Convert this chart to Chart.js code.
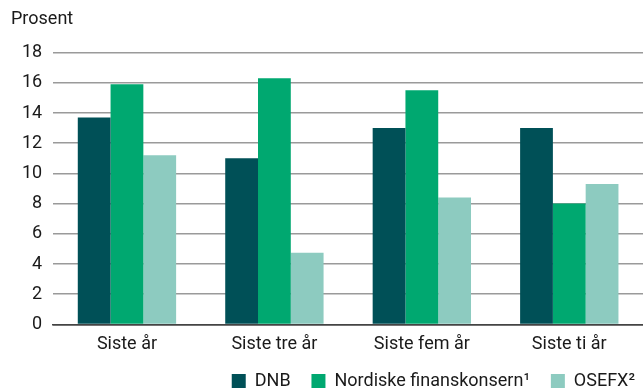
<!DOCTYPE html>
<html>
<head>
<meta charset="utf-8">
<script src="https://cdn.jsdelivr.net/npm/chart.js@4"></script>
<style>
    html, body { margin: 0; padding: 0; background: #fff; }
    #wrap { width: 643px; height: 390px; }
</style>
</head>
<body>
<div id="wrap"><canvas id="returnChart"></canvas></div>
<script>
// ================= DATA =================

const categories = ["Siste år", "Siste tre år", "Siste fem år", "Siste ti år"];
const seriesNames = ["DNB", "Nordiske finanskonsern¹", "OSEFX²"];
const dnb = [13.7, 11.0, 13.0, 13.0];
const nordiske = [15.9, 16.3, 15.5, 8.0];
const osefx = [11.2, 4.75, 8.4, 9.3];
const yTicks = [0, 2, 4, 6, 8, 10, 12, 14, 16, 18];

// ================= CHART =================

const ctx = document.getElementById("returnChart");
const textFont = { family: 'Roboto', size: 18 };

// en space + thin space after the first two legend names widens the gap between items
const gap = '\u2002\u2009';

new Chart(ctx, {
    type: 'bar',
    data: {
        labels: categories,
        datasets: [
            { label: seriesNames[0] + gap, data: dnb, backgroundColor: '#005057' },
            { label: seriesNames[1] + gap, data: nordiske, backgroundColor: '#00a870' },
            { label: seriesNames[2], data: osefx, backgroundColor: '#8dcbc0' }
        ]
    },
    options: {
        responsive: true,
        maintainAspectRatio: false,
        animation: false,
        categoryPercentage: 0.667,
        barPercentage: 1.0,
        // legend keeps 10px of empty space under itself, let it hang below the canvas
        layout: { padding: { left: 11, right: 0, top: 2, bottom: -10 } },
        plugins: {
            title: {
                display: true,
                text: 'Prosent',
                align: 'start',
                color: '#1a1a1a',
                font: { family: 'Roboto', size: 18, weight: 'normal' },
                padding: { top: 7, bottom: 22 }
            },
            legend: {
                position: 'bottom',
                align: 'end',
                labels: {
                    color: '#1a1a1a',
                    boxWidth: 14,
                    boxHeight: 14,
                    padding: 8,
                    font: textFont
                }
            },
            tooltip: { enabled: false }
        },
        scales: {
            x: {
                grid: { display: false, drawTicks: false },
                border: { display: true, color: '#444', width: 1.5 },
                ticks: {
                    autoSkip: false,
                    maxRotation: 0,
                    color: '#1a1a1a',
                    padding: 9,
                    font: textFont
                }
            },
            y: {
                min: 0,
                max: 18,
                afterBuildTicks: (scale) => {
                    scale.ticks = yTicks.map(v => ({ value: v }));
                },
                grid: {
                    color: (c) => c.tick && c.tick.value === 0 ? '#444' : '#9a9a9a',
                    lineWidth: 1.5,
                    drawTicks: false
                },
                border: { display: false },
                ticks: {
                    color: '#1a1a1a',
                    padding: 11,
                    font: textFont
                }
            }
        }
    }
});
</script>
</body>
</html>
